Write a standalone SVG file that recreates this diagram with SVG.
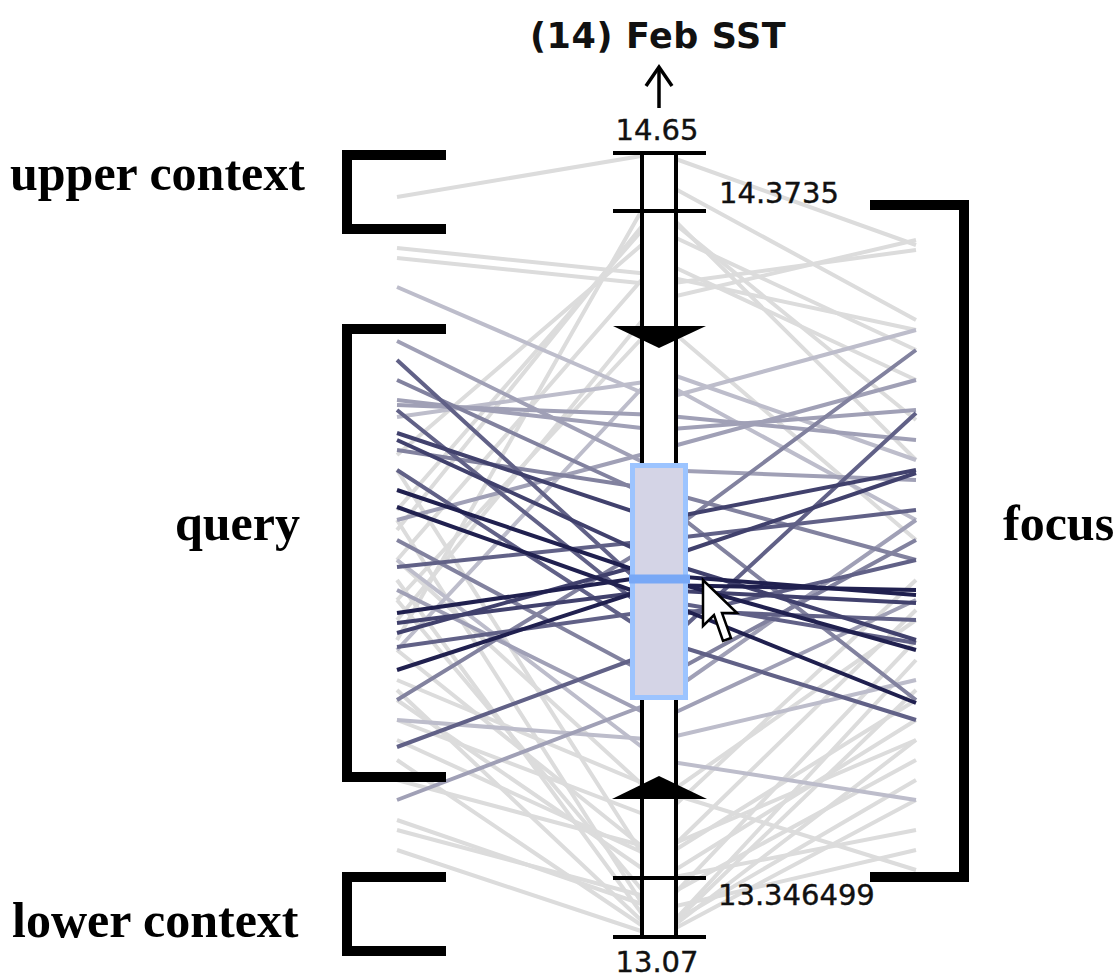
<svg xmlns="http://www.w3.org/2000/svg" width="1120" height="978" viewBox="0 0 1120 978">
<style>
.bg{fill:#ffffff}
#lines polyline{fill:none;stroke-width:4;stroke-linejoin:round}
.g{stroke:#dcdcdc}
.q1{stroke:#bdbdcb}
.q2{stroke:#a0a0b6}
.q3{stroke:#82829f}
.q4{stroke:#616187}
.q5{stroke:#41416d}
.q6{stroke:#20204f}
.br{fill:none;stroke:#000;stroke-width:10;stroke-linejoin:miter;stroke-linecap:butt}
.lbl{font-family:"Liberation Serif","Times New Roman",serif;font-weight:bold;font-size:50px;fill:#000}
.tick{font-family:"DejaVu Sans","Noto Sans",sans-serif;font-size:29px;fill:#111;stroke:#111;stroke-width:0.4}
.title{font-family:"DejaVu Sans","Noto Sans",sans-serif;font-weight:bold;font-size:35px;letter-spacing:0.6px;fill:#111}
.ax{stroke:#000;stroke-width:4;fill:none}
</style>
<rect class="bg" x="0" y="0" width="1120" height="978"/>
<g id="lines">
<polyline class="g" points="397,197 659,153 916,245"/>
<polyline class="g" points="397,248 659,275 916,330"/>
<polyline class="g" points="397,258 659,285 916,250"/>
<polyline class="g" points="397,510 659,211 916,420"/>
<polyline class="g" points="397,530 659,205 916,460"/>
<polyline class="g" points="397,560 659,260 916,380"/>
<polyline class="g" points="397,600 659,320 916,540"/>
<polyline class="g" points="397,455 659,230 916,350"/>
<polyline class="g" points="397,620 659,300 916,240"/>
<polyline class="g" points="397,640 659,180 916,320"/>
<polyline class="g" points="397,830 659,900 916,760"/>
<polyline class="g" points="397,850 659,937 916,800"/>
<polyline class="g" points="397,700 659,880 916,830"/>
<polyline class="g" points="397,650 659,860 916,700"/>
<polyline class="g" points="397,600 659,910 916,850"/>
<polyline class="g" points="397,560 659,800 916,620"/>
<polyline class="g" points="397,760 659,937 916,660"/>
<polyline class="g" points="397,780 659,850 916,740"/>
<polyline class="g" points="397,520 659,930 916,780"/>
<polyline class="g" points="397,720 659,820 916,580"/>
<polyline class="g" points="397,680 659,790 916,870"/>
<polyline class="g" points="397,820 659,910 916,640"/>
<polyline class="g" points="397,470 659,880 916,720"/>
<polyline class="g" points="397,740 659,860 916,610"/>
<polyline class="g" points="397,690 659,937 916,690"/>
<polyline class="g" points="397,580 659,937 916,740"/>
<polyline class="q1" points="397,287 659,400 916,330"/>
<polyline class="q1" points="397,417 659,380 916,520"/>
<polyline class="q1" points="397,650 659,370 916,460"/>
<polyline class="q1" points="397,560 659,760 916,800"/>
<polyline class="q1" points="397,720 659,740 916,680"/>
<polyline class="q2" points="397,341 659,470 916,480"/>
<polyline class="q2" points="397,400 659,430 916,410"/>
<polyline class="q2" points="397,520 659,450 916,380"/>
<polyline class="q2" points="397,800 659,700 916,520"/>
<polyline class="q2" points="397,590 659,720 916,600"/>
<polyline class="q2" points="397,405 659,415 916,440"/>
<polyline class="q3" points="397,450 659,490 916,560"/>
<polyline class="q3" points="397,380 659,500 916,700"/>
<polyline class="q3" points="397,540 659,680 916,540"/>
<polyline class="q3" points="397,700 659,540 916,350"/>
<polyline class="q4" points="397,567 659,540 916,510"/>
<polyline class="q4" points="397,747 659,650 916,413"/>
<polyline class="q4" points="397,470 659,640 916,720"/>
<polyline class="q4" points="397,647 659,610 916,620"/>
<polyline class="q4" points="397,360 659,600 916,643"/>
<polyline class="q4" points="397,410 659,620 916,560"/>
<polyline class="q5" points="397,433 659,520 916,470"/>
<polyline class="q5" points="397,440 659,560 916,640"/>
<polyline class="q5" points="397,633 659,560 916,473"/>
<polyline class="q5" points="397,623 659,590 916,603"/>
<polyline class="q6" points="397,490 659,578 916,650"/>
<polyline class="q6" points="397,507 659,600 916,703"/>
<polyline class="q6" points="397,613 659,575 916,595"/>
<polyline class="q6" points="397,670 659,585 916,590"/>
</g>
<g id="axis">
<rect x="642" y="153" width="34" height="784" fill="#fff"/>
<line class="ax" x1="642" y1="153" x2="642" y2="937"/>
<line class="ax" x1="676" y1="153" x2="676" y2="937"/>
<line class="ax" x1="613" y1="153" x2="706" y2="153"/>
<line class="ax" x1="613" y1="211" x2="706" y2="211"/>
<line class="ax" x1="613" y1="878" x2="706" y2="878"/>
<line class="ax" x1="613" y1="937" x2="706" y2="937"/>
<polygon points="613,326 706,326 659,348" fill="#000"/>
<polygon points="612,799 707,799 659,776" fill="#000"/>
<text class="tick" x="657" y="140" text-anchor="middle">14.65</text>
<text class="tick" x="719" y="203">14.3735</text>
<text class="tick" x="718" y="905">13.346499</text>
<text class="tick" x="657" y="972" text-anchor="middle">13.07</text>
</g>
<g id="title">
<text class="title" x="530" y="48">(14) Feb SST</text>
<line x1="659" y1="68" x2="659" y2="108" stroke="#000" stroke-width="3.5"/>
<polyline points="646,86 659,67 672,86" fill="none" stroke="#000" stroke-width="3.5"/>
</g>
<g id="query-box">
<rect x="632.5" y="465.5" width="53" height="232" fill="#d4d4e6" stroke="#9cc4ff" stroke-width="5"/>
<line x1="629" y1="579" x2="690" y2="579" stroke="#78a8f6" stroke-width="9"/>
</g>
<g id="cursor">
<path d="M703,580 L703,626 L714,615 L723,641 L731,638 L722,613 L737,613 Z" fill="#fff" stroke="#000" stroke-width="2.5" stroke-linejoin="miter"/>
</g>
<g id="upper-context">
<path class="br" d="M446,155 H347 V229 H446"/>
<text class="lbl" x="10" y="190">upper context</text>
</g>
<g id="query">
<path class="br" d="M446,329 H347 V777 H446"/>
<text class="lbl" x="175" y="540">query</text>
</g>
<g id="lower-context">
<path class="br" d="M446,877 H347 V951 H446"/>
<text class="lbl" x="12" y="937">lower context</text>
</g>
<g id="focus">
<path class="br" d="M870,205 H964 V877 H870"/>
<text class="lbl" x="1003" y="540">focus</text>
</g>
</svg>
